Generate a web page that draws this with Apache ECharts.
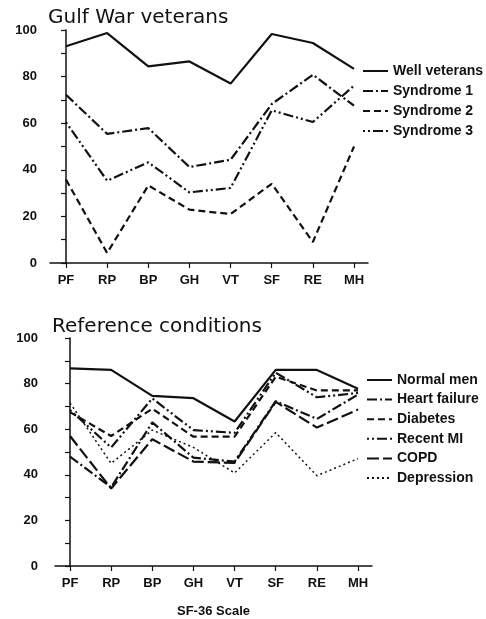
<!doctype html>
<meta charset="utf-8">
<style>
  html, body {
    margin: 0;
    height: 100%;
    background: #fff;
  }

  #chart {
    width: 486px;
    height: 619px;
  }
</style>
<script src="https://cdn.jsdelivr.net/npm/echarts@6.0.0/dist/echarts.min.js"></script>

<div id="chart"></div>

<script>
  const categories = ['PF', 'RP', 'BP', 'GH', 'VT', 'SF', 'RE', 'MH']

  // Gulf War veterans
  const wellVeterans = [93, 98.7, 84.4, 86.5, 77, 98.3, 94.4, 83.3]
  const syndrome1 = [72.2, 55.4, 57.9, 41.2, 44.3, 68.2, 80.8, 67.5]
  const syndrome2 = [35.8, 4.3, 33.3, 22.9, 21, 34, 9, 50]
  const syndrome3 = [60.4, 35.3, 43.2, 30.3, 32.2, 65.5, 60.5, 76.1]

  // Reference conditions
  const normalMen = [86.7, 86, 74.6, 73.6, 63.4, 86, 86, 77.7]
  const heartFailure = [48, 34.5, 63, 47.5, 45.8, 72.3, 64.5, 75.2]
  const diabetes = [67.5, 57, 69, 56.7, 56.7, 83, 77, 77]
  const recentMI = [68.4, 52, 73.5, 59.6, 58.4, 84.8, 74, 75.9]
  const copd = [57, 34, 55.6, 45.8, 45.2, 72, 60.7, 68.6]
  const depression = [71.5, 45, 59.6, 52, 40.8, 58.5, 39.6, 47.1]

  const ink = '#111'
  const tickIdx = categories.map((c, i) => i)
  let chart = echarts.init(document.getElementById('chart'))

  function xAxis(gridIndex, min, name) {
    return {
      type: 'value',
      gridIndex: gridIndex,
      min: min,
      max: 7.34,
      name: name,
      nameLocation: 'middle',
      nameGap: 39,
      nameTextStyle: { color: ink, fontSize: 13, fontWeight: 'bold', fontFamily: 'Liberation Sans' },
      axisLine: { lineStyle: { color: ink, width: 1.5 } },
      axisTick: { show: true, length: 5, customValues: tickIdx, lineStyle: { color: ink, width: 1.2 } },
      axisLabel: {
        customValues: tickIdx,
        formatter: v => categories[v],
        color: ink,
        fontSize: 13,
        fontWeight: 'bold',
        fontFamily: 'Liberation Sans',
        margin: 11,
      },
      splitLine: { show: false },
    }
  }

  function yAxis(gridIndex, margin) {
    return {
      type: 'value',
      gridIndex: gridIndex,
      min: 0,
      max: 100,
      interval: 10,
      axisLine: { show: true, lineStyle: { color: ink, width: 1.5 } },
      axisTick: { show: true, length: 5, lineStyle: { color: ink, width: 1.2 } },
      axisLabel: {
        formatter: v => (v % 20 === 0 ? v : ''),
        color: ink,
        fontSize: 13,
        fontWeight: 'bold',
        fontFamily: 'Liberation Sans',
        margin: margin,
      },
      splitLine: { show: false },
    }
  }

  function line(name, values, idx, dash, width) {
    return {
      type: 'line',
      name: name,
      xAxisIndex: idx,
      yAxisIndex: idx,
      data: values.map((v, i) => [i, v]),
      symbol: 'none',
      lineStyle: { color: ink, width: width || 2.2, type: dash },
      itemStyle: { color: ink },
      silent: true,
    }
  }

  const solid = 'solid'
  const dashDot = [10, 3, 2, 3]
  const dashed = [7, 4]
  const dotDotDash = [2, 3, 2, 3, 10, 3]
  const longDash = [12, 4]
  const dotted = [2, 3]

  const titleStyle = { color: ink, fontSize: 20, fontWeight: 'normal', fontFamily: 'DejaVu Sans' }
  const legendText = { color: ink, fontSize: 14, fontWeight: 'bold', fontFamily: 'Liberation Sans' }
  // hide the circle ECharts puts in the middle of a line legend icon
  const noMarker = { opacity: 0 }

  chart.setOption({
    animation: false,
    backgroundColor: '#fff',
    title: [
      { text: 'Gulf War veterans', left: 43, top: 3, textStyle: titleStyle },
      { text: 'Reference conditions', left: 47, top: 312, textStyle: titleStyle },
    ],
    legend: [
      {
        data: ['Well veterans', 'Syndrome 1', 'Syndrome 2', 'Syndrome 3'],
        orient: 'vertical',
        left: 357,
        top: 59,
        itemWidth: 25,
        itemHeight: 14,
        itemGap: 6,
        itemStyle: noMarker,
        textStyle: legendText,
      },
      {
        data: ['Normal men', 'Heart failure', 'Diabetes', 'Recent MI', 'COPD', 'Depression'],
        orient: 'vertical',
        left: 361,
        top: 368,
        itemWidth: 25,
        itemHeight: 14,
        itemGap: 5.6,
        itemStyle: noMarker,
        textStyle: legendText,
      },
    ],
    grid: [
      { left: 50, top: 30, width: 318, height: 233 },
      { left: 55, top: 338, width: 317, height: 235 },
    ],
    xAxis: [xAxis(0, -0.389, ''), xAxis(1, -0.365, 'SF-36 Scale')],
    yAxis: [yAxis(0, 13), yAxis(1, 17)],
    series: [
      line('Well veterans', wellVeterans, 0, solid),
      line('Syndrome 1', syndrome1, 0, dashDot),
      line('Syndrome 2', syndrome2, 0, dashed),
      line('Syndrome 3', syndrome3, 0, dotDotDash),
      line('Normal men', normalMen, 1, solid),
      line('Heart failure', heartFailure, 1, dashDot),
      line('Diabetes', diabetes, 1, dashed),
      line('Recent MI', recentMI, 1, dotDotDash),
      line('COPD', copd, 1, longDash),
      line('Depression', depression, 1, dotted, 1.5),
    ],
  })
</script>
